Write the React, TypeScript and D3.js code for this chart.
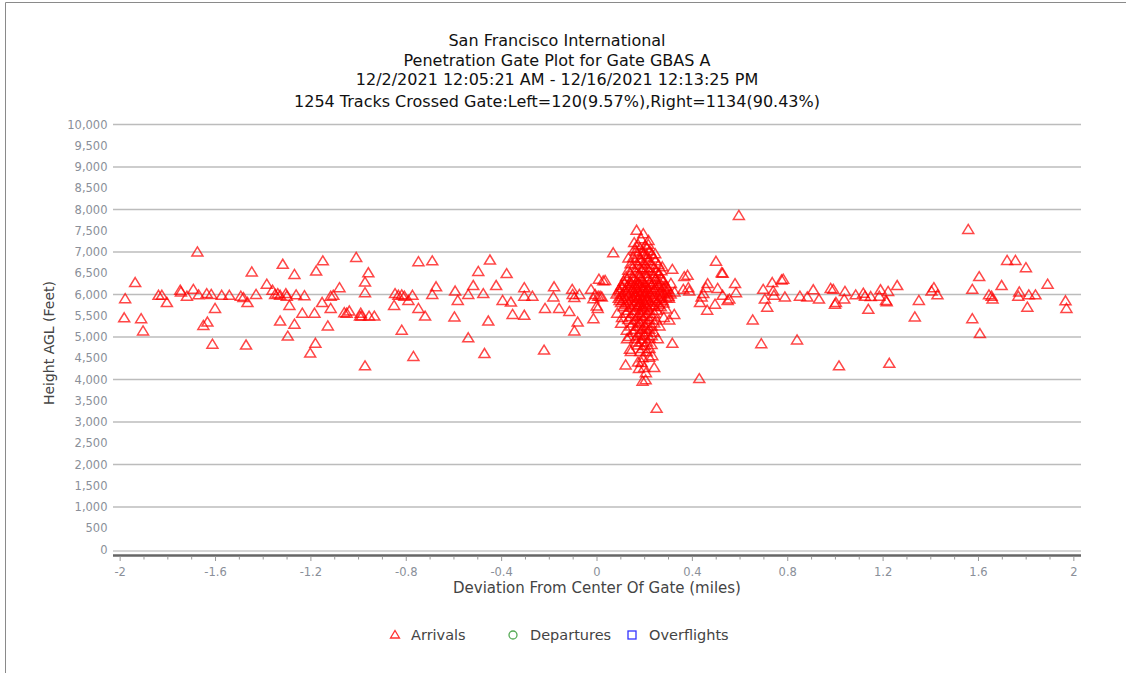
import React from "react";
import * as d3 from "d3";

const titleLines = [
  "San Francisco International",
  "Penetration Gate Plot for Gate GBAS A",
  "12/2/2021 12:05:21 AM - 12/16/2021 12:13:25 PM",
  "1254 Tracks Crossed Gate:Left=120(9.57%),Right=1134(90.43%)",
];
const xAxisTitle = "Deviation From Center Of Gate (miles)";
const yAxisTitle = "Height AGL (Feet)";
const xMajorTicks = [-2, -1.6, -1.2, -0.8, -0.4, 0, 0.4, 0.8, 1.2, 1.6, 2];
const yLabelTicks = [0, 500, 1000, 1500, 2000, 2500, 3000, 3500, 4000, 4500, 5000, 5500, 6000, 6500, 7000, 7500, 8000, 8500, 9000, 9500, 10000];
const yGridTicks = [1000, 2000, 3000, 4000, 5000, 6000, 7000, 8000, 9000, 10000];
const legendItems = ["Arrivals", "Departures", "Overflights"];

// scattered arrivals (miles, feet)
const arrivalsScatter: [number, number][] = [
  [-1.676,6990],[-1.937,6270],[-1.979,5890],[-1.983,5440],[-1.912,5420],[-1.904,5130],[-1.839,5970],[-1.825,5970],[-1.804,5800],[-1.748,6090],[-1.745,6050],[-1.720,5950],[-1.693,6110],[-1.671,5980],[-1.637,6010],[-1.618,5990],[-1.602,5660],[-1.651,5260],[-1.634,5340],[-1.613,4820],[-1.574,5970],[-1.542,5970],[-1.448,6520],[-1.494,5950],[-1.483,5915],[-1.466,5800],[-1.472,4800],[-1.430,5990],[-1.385,6230],[-1.361,6090],[-1.350,5990],[-1.339,6010],[-1.329,5970],[-1.305,6010],[-1.301,5950],[-1.318,6700],[-1.269,6460],[-1.262,5980],[-1.227,5960],[-1.290,5730],[-1.329,5365],[-1.297,5010],[-1.269,5290],[-1.236,5550],[-1.185,5550],[-1.181,4840],[-1.203,4610],[-1.178,6540],[-1.150,6780],[-1.153,5800],[-1.117,5660],[-1.117,5950],[-1.106,5970],[-1.129,5250],[-1.080,6150],[-1.060,5560],[-1.050,5550],[-1.039,5600],[-1.010,6860],[-0.994,5480],
  [-0.959,6500],[-0.973,6280],[-0.973,6030],[-0.991,5550],[-0.987,5480],[-0.956,5480],[-0.934,5480],[-0.973,4310],[-0.819,5150],[-0.851,5730],[-0.847,6010],[-0.833,5970],[-0.819,5980],[-0.808,5950],[-0.791,5850],[-0.774,5970],[-0.749,6760],[-0.691,6780],[-0.749,5660],[-0.721,5480],[-0.691,5990],[-0.675,6170],[-0.770,4530],[-0.595,6070],[-0.584,5850],[-0.598,5460],[-0.540,5990],[-0.519,6200],[-0.498,6530],[-0.477,6010],[-0.449,6800],[-0.456,5365],[-0.540,4970],[-0.472,4600],[-0.423,6200],[-0.379,6480],[-0.396,5850],[-0.361,5810],[-0.354,5520],[-0.305,6150],[-0.305,5950],[-0.271,5950],[-0.305,5500],[-0.222,4680],[-0.218,5660],[-0.180,6170],[-0.183,5930],[-0.159,5660],[-0.116,5590],[-0.104,6110],[-0.102,5990],[-0.095,5915],[-0.074,5990],[-0.081,5340],[-0.095,5130],[-0.025,6110],[-0.015,5420],[-0.008,5990],[-0.015,5890],[0.005,5950],[0.020,5930],[-0.001,5720],[0.003,5660],[0.008,6350],[0.026,6310],
  [0.068,6970],[0.034,6320],[0.013,5950],
  [0.429,4010],[0.366,6410],[0.380,6440],[0.362,6110],[0.383,6150],[0.387,6070],[0.464,6245],[0.457,6150],[0.446,6010],[0.439,5930],[0.432,5800],[0.462,5620],[0.499,6770],[0.523,6500],[0.527,6490],[0.506,6130],[0.527,5970],[0.548,5850],[0.555,5880],[0.495,5760],[0.579,6245],[0.583,6030],[0.595,7850],[0.653,5390],[0.689,4830],[0.697,6110],[0.704,5880],[0.714,5690],[0.735,6270],[0.739,6070],[0.742,5970],[0.774,6330],[0.781,6350],[0.788,5930],[0.839,4920],[0.851,5950],[0.882,5930],[0.907,6100],[0.931,5880],[0.980,6130],[0.991,6110],[0.998,5760],[1.002,5800],[1.040,6060],[1.037,5880],[1.015,4310],
  [1.085,5980],[1.117,6020],[1.124,5950],[1.148,5940],[1.138,5640],[1.184,5950],[1.189,6100],[1.221,6060],[1.212,5850],[1.215,5820],[1.259,6200],[1.226,4370],[1.350,5850],[1.333,5460],[1.403,6070],[1.413,6150],[1.428,5980],[1.557,7520],[1.574,6110],[1.574,5420],[1.603,6410],[1.606,5070],[1.644,5980],[1.655,5950],[1.659,5880],[1.697,6200],[1.720,6790],[1.755,6790],[1.799,6620],[1.771,6050],[1.767,5950],[1.811,5980],[1.839,5980],[1.805,5690],[1.890,6230],[1.965,5840],[1.969,5660],
];

// dense cluster of arrivals near the gate centre (miles, feet)
const arrivalsCluster: [number, number][] = [
  [0.166,7500],[0.194,7420],[0.159,7070],[0.215,7170],[0.274,6640],[0.316,6580],[0.101,5310],[0.120,4330],[0.138,4700],[0.187,4390],[0.198,4270],[0.240,4270],[0.191,3950],[0.204,3980],[0.250,3310],[0.316,4840],[0.324,5520],[0.303,5390],[0.302,5900],[0.293,6170],
  [0.185,7300],[0.172,7160],[0.202,7140],[0.163,7010],[0.191,6990],[0.221,7020],[0.152,6860],[0.181,6840],[0.210,6870],[0.238,6850],[0.141,6710],[0.170,6690],[0.199,6720],[0.228,6700],[0.258,6690],
  [0.131,6560],[0.161,6540],[0.189,6570],[0.219,6550],[0.249,6540],[0.122,6410],[0.151,6390],[0.180,6420],[0.209,6400],[0.238,6410],[0.268,6390],
  [0.112,6300],[0.139,6290],[0.168,6310],[0.191,6300],[0.221,6280],[0.251,6300],[0.279,6310],
  [0.102,6200],[0.129,6190],[0.158,6210],[0.181,6200],[0.203,6190],[0.229,6210],[0.259,6200],[0.288,6190],
  [0.092,6100],[0.119,6090],[0.149,6110],[0.171,6100],[0.192,6090],[0.212,6110],[0.241,6100],[0.269,6090],[0.298,6110],
  [0.082,6000],[0.109,5990],[0.139,6010],[0.161,6000],[0.182,5990],[0.201,6010],[0.222,6000],[0.251,5990],[0.281,6010],[0.309,6000],
  [0.091,5900],[0.121,5890],[0.151,5910],[0.172,5900],[0.189,5890],[0.211,5910],[0.232,5900],[0.262,5890],[0.291,5910],
  [0.101,5800],[0.131,5790],[0.161,5810],[0.181,5800],[0.199,5790],[0.221,5810],[0.251,5800],[0.279,5790],
  [0.111,5700],[0.142,5690],[0.171,5710],[0.191,5700],[0.209,5690],[0.241,5710],[0.268,5700],
  [0.122,5550],[0.151,5540],[0.179,5560],[0.211,5550],[0.241,5540],[0.131,5400],[0.161,5390],[0.191,5410],[0.219,5400],[0.249,5390],
  [0.141,5250],[0.171,5240],[0.199,5260],[0.229,5250],[0.151,5100],[0.181,5090],[0.209,5110],[0.239,5100],
  [0.161,4950],[0.189,4940],[0.221,4960],[0.171,4800],[0.201,4790],[0.229,4810],[0.181,4650],[0.209,4640],[0.191,4500],[0.219,4510],
  [0.085,5550],[0.095,5850],[0.105,5450],[0.125,5150],[0.135,5000],[0.290,5650],[0.310,6250],[0.325,6050],[0.270,6550],[0.280,5450],[0.262,5250],[0.255,4950],[0.126,4950],[0.142,4650],[0.172,4400],[0.232,4550],[0.205,4150],[0.176,4250],[0.244,6950],[0.132,6850],[0.216,7260],[0.156,7210],
  [0.176,6250],[0.196,6150],[0.186,6050],[0.166,5950],[0.206,5850],[0.176,5750],[0.196,5650],[0.186,5500],[0.176,5350],[0.206,5200],[0.196,5050],[0.186,4870],[0.176,6480],[0.196,6620],[0.186,6780],[0.206,6930],
  [0.125,6350],[0.155,6350],[0.185,6350],[0.215,6350],[0.245,6350],[0.270,6350],
  [0.115,6250],[0.145,6250],[0.170,6250],[0.200,6250],[0.235,6250],[0.265,6250],
  [0.105,6150],[0.135,6150],[0.165,6150],[0.190,6150],[0.215,6150],[0.245,6150],[0.280,6150],
  [0.095,6050],[0.125,6050],[0.155,6050],[0.175,6050],[0.205,6050],[0.235,6050],[0.265,6050],[0.295,6050],
  [0.100,5950],[0.130,5950],[0.160,5950],[0.180,5950],[0.200,5950],[0.240,5950],[0.270,5950],[0.300,5950],
  [0.110,5850],[0.140,5850],[0.170,5850],[0.195,5850],[0.215,5850],[0.245,5850],[0.275,5850],
  [0.120,5750],[0.155,5750],[0.180,5750],[0.205,5750],[0.230,5750],[0.260,5750],
  [0.130,5620],[0.160,5620],[0.190,5620],[0.220,5620],[0.250,5620],
  [0.140,5470],[0.170,5470],[0.200,5470],[0.230,5470],
  [0.150,5320],[0.180,5320],[0.210,5320],[0.240,5320],
  [0.160,5170],[0.190,5170],[0.220,5170],
  [0.170,5020],[0.200,5020],[0.230,5020],
  [0.165,4870],[0.210,4870],[0.190,4720],[0.220,4720],
  [0.140,6480],[0.205,6480],[0.235,6480],[0.260,6480],
  [0.150,6620],[0.180,6620],[0.210,6620],[0.240,6620],
  [0.160,6780],[0.215,6780],[0.245,6780],
  [0.170,6930],[0.195,6930],[0.230,6930],
  [0.180,7080],[0.210,7080],
];

const arrivals: [number, number][] = [...arrivalsScatter, ...arrivalsCluster];

const W = 1126;
const H = 673;
const FONT = "DejaVu Sans, Verdana, sans-serif";

const triPath = "M0,-5.5L5.5,3.5L-5.5,3.5Z";

export default function App() {
  const x = d3.scaleLinear().domain([-2.03, 2.03]).range([113, 1081]);
  const y = d3.scaleLinear().domain([0, 10000]).range([549.5, 124.5]);
  const minorTicks = d3.range(-20, 21).map((v) => v / 10);
  const fmt = d3.format(",");
  const xfmt = (v: number) => String(Math.round(v * 10) / 10);
  const axisY = 555.5;

  return (
    <svg
      width={W}
      height={H}
      style={{ position: "absolute", left: 0, top: 0, background: "#fff" }}
      fontFamily={FONT}
    >
      <rect x={0} y={0} width={W} height={H} fill="#fff" />
      {/* frame */}
      <line x1={5.5} y1={2.5} x2={W} y2={2.5} stroke="#8a8a8a" strokeWidth={1} />
      <line x1={5.5} y1={2.5} x2={5.5} y2={H} stroke="#8a8a8a" strokeWidth={1} />

      {/* title */}
      {titleLines.map((t, i) => (
        <text
          key={i}
          x={557}
          y={46 + i * 19.6 + (i === 3 ? 2 : 0)}
          textAnchor="middle"
          fontSize={16}
          fill="#111"
        >
          {t}
        </text>
      ))}

      {/* grid */}
      {yGridTicks.map((v) => (
        <line key={v} x1={113} x2={1081} y1={y(v)} y2={y(v)} stroke="#bcbcbc" strokeWidth={1.5} />
      ))}
      <line x1={113} x2={1081} y1={y(0) + 1.5} y2={y(0) + 1.5} stroke="#c8c8c8" strokeWidth={1.5} />

      {/* y labels */}
      {yLabelTicks.map((v) => (
        <text key={v} x={107.5} y={y(v) + 4} textAnchor="end" fontSize={11.5} fill="#8a8f99">
          {fmt(v)}
        </text>
      ))}

      {/* x axis */}
      <line x1={113} x2={1081} y1={axisY} y2={axisY} stroke="#666" strokeWidth={2.5} />
      {minorTicks.map((v) => (
        <line
          key={v}
          x1={x(v)}
          x2={x(v)}
          y1={axisY + 1}
          y2={axisY + (Math.abs(Math.round(v * 10)) % 4 === 0 ? 5.5 : 4)}
          stroke="#999"
          strokeWidth={1}
        />
      ))}
      {xMajorTicks.map((v) => (
        <text key={v} x={x(v)} y={576} textAnchor="middle" fontSize={11.5} fill="#8a8f99">
          {xfmt(v)}
        </text>
      ))}

      {/* axis titles */}
      <text x={597} y={593} textAnchor="middle" fontSize={15} fill="#444">
        {xAxisTitle}
      </text>
      <text
        transform={`translate(54,343) rotate(-90)`}
        textAnchor="middle"
        fontSize={14}
        fill="#444"
      >
        {yAxisTitle}
      </text>

      {/* points */}
      <g fill="none" stroke="#ff0000" strokeWidth={1.5} strokeOpacity={0.72}>
        {arrivals.map((d, i) => (
          <path key={i} d={triPath} transform={`translate(${x(d[0])},${y(d[1])})`} />
        ))}
      </g>

      {/* legend */}
      <g>
        <path d="M0,-4.5L4.5,3L-4.5,3Z" transform="translate(395,635)" fill="none" stroke="#ff3333" strokeWidth={1.3} />
        <text x={411} y={640} fontSize={14.5} fill="#444">{legendItems[0]}</text>
        <circle cx={513} cy={635} r={4} fill="none" stroke="#55aa55" strokeWidth={1.3} />
        <text x={530} y={640} fontSize={14.5} fill="#444">{legendItems[1]}</text>
        <rect x={628} y={631} width={8} height={8} fill="none" stroke="#3333ff" strokeWidth={1.3} />
        <text x={649} y={640} fontSize={14.5} fill="#444">{legendItems[2]}</text>
      </g>
    </svg>
  );
}
